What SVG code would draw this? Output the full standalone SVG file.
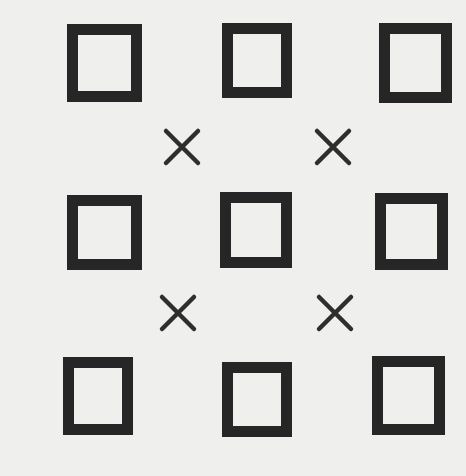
<svg xmlns="http://www.w3.org/2000/svg" width="466" height="476" viewBox="0 0 466 476">
<style>
.sq{fill:#efefed;stroke:#262626;stroke-width:11;stroke-linejoin:miter}
.x{stroke:#2e2e2e;stroke-width:4.5;stroke-linecap:round;fill:none}
</style>
<rect width="466" height="476" fill="#efefed"/>
<g id="s11"><rect class="sq" x="72.5" y="29.5" width="64" height="67"/></g>
<g id="s12"><rect class="sq" x="227.5" y="28.5" width="59" height="64"/></g>
<g id="s13"><rect class="sq" x="384.5" y="28.5" width="62" height="69"/></g>
<g id="s21"><rect class="sq" x="72.5" y="200.5" width="64" height="64"/></g>
<g id="s22"><rect class="sq" x="225.5" y="197.5" width="61" height="65"/></g>
<g id="s23"><rect class="sq" x="380.5" y="198.5" width="62" height="66"/></g>
<g id="s31"><rect class="sq" x="68.5" y="362.5" width="59" height="67"/></g>
<g id="s32"><rect class="sq" x="227.5" y="367.5" width="59" height="64"/></g>
<g id="s33"><rect class="sq" x="377.5" y="361.5" width="62" height="68"/></g>
<g id="x1"><path class="x" d="M166,131L198,163M198,131L166,163"/></g>
<g id="x2"><path class="x" d="M317,131L349,163M349,131L317,163"/></g>
<g id="x3"><path class="x" d="M162,297L194,329M194,297L162,329"/></g>
<g id="x4"><path class="x" d="M319,297L351,329M351,297L319,329"/></g>
<g id="connectors"></g>
</svg>
